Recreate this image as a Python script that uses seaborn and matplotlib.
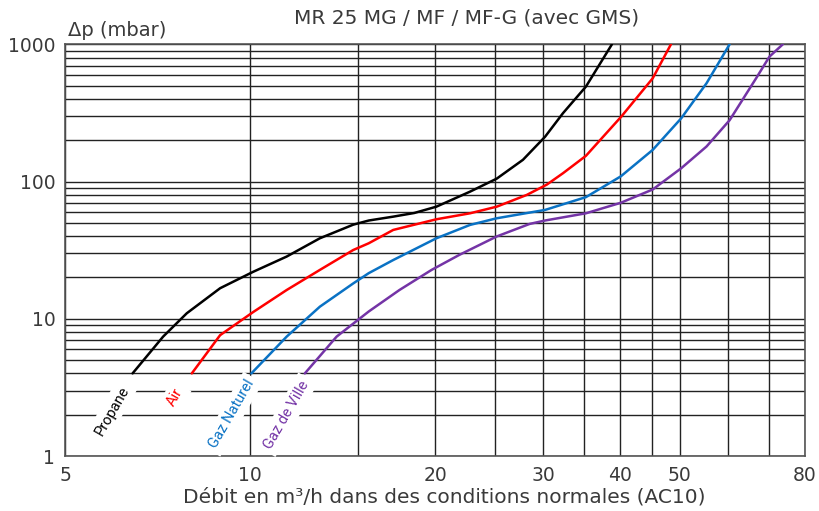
import numpy as np
import pandas as pd
import matplotlib
matplotlib.use("Agg")
import matplotlib.pyplot as plt
import seaborn as sns
from matplotlib.ticker import FixedLocator, NullFormatter

# values (flow m3/h, pressure drop mbar)
propane_x = [6.44, 7.22, 7.89, 8.94, 10.12, 11.47, 12.99, 14.72, 15.6, 17.1,
             18.5, 20.1, 22.8, 25.2, 27.8, 30.2, 32.3, 35.2, 38.8]
propane_y = [4.0, 7.41, 10.97, 16.7, 22.0, 28.4, 38.6, 48.5, 52.0, 55.5,
             59.0, 65.6, 84.4, 105, 144, 212, 315, 492, 1000]

air_x = [8.04, 8.94, 10.12, 11.47, 12.99, 14.72, 15.6, 17.1, 20.1, 22.8,
         25.2, 28.2, 30.4, 32.3, 35.2, 40.2, 45.2, 48.4]
air_y = [4.0, 7.6, 11.2, 16.2, 22.7, 31.7, 35.5, 44.4, 53.1, 58.7,
         65.6, 79.9, 95, 115, 154, 298, 565, 1000]

gaz_nat_x = [10.05, 11.47, 12.99, 14.72, 15.6, 17.1, 20.1, 22.8, 25.2, 28.5,
             30.2, 35.2, 40.1, 45.2, 50.3, 55.3, 60.3]
gaz_nat_y = [4.0, 7.41, 12.25, 18.1, 21.5, 26.8, 38.6, 48.3, 54.0, 59.4,
             62.1, 77.0, 109, 170, 289, 520, 1000]

gaz_ville_x = [12.28, 13.83, 15.6, 17.5, 19.74, 21.9, 25.2, 28.5, 30.2, 35.2,
               40.1, 45.2, 50.3, 55.3, 60.3, 66.6, 70.0, 73.6]
gaz_ville_y = [4.0, 7.41, 11.3, 16.2, 22.7, 29.2, 39.8, 49.1, 52.0, 58.7,
               70.0, 87.5, 125, 180, 280, 566, 813, 1000]

gas_names = ["Propane", "Air", "Gaz Naturel", "Gaz de Ville"]
gas_colors = ["#000000", "#ff0000", "#0a72c4", "#7434a6"]
# label anchor (flow, dp) just under the start of each curve
label_x = [5.96, 7.55, 9.34, 11.48]
label_y = [2.13, 2.69, 2.02, 2.0]

x_ticks = [5, 10, 20, 30, 40, 50, 80]
x_grid = [5, 10, 15, 20, 25, 30, 35, 40, 45, 50, 60, 70, 80]
y_ticks = [1, 10, 100, 1000]

series = [(propane_x, propane_y), (air_x, air_y),
          (gaz_nat_x, gaz_nat_y), (gaz_ville_x, gaz_ville_y)]
frames = []
for name, (xs, ys) in zip(gas_names, series):
    frames.append(pd.DataFrame({"debit": xs, "dp": ys, "gaz": name}))
df = pd.concat(frames, ignore_index=True)

sns.set_theme(style="white")
plt.rcParams["font.family"] = ["DejaVu Sans"]
text_col = "#3a3a3a"

fig = plt.figure(figsize=(8.19, 5.11), dpi=100)
ax = fig.add_axes([0.0794, 0.1076, 0.9036, 0.8057])

ax.set_xscale("log")
ax.set_yscale("log")
ax.set_xlim(5, 80)
ax.set_ylim(1, 1000)

sns.lineplot(data=df, x="debit", y="dp", hue="gaz", palette=gas_colors,
             estimator=None, sort=False, linewidth=1.8, legend=False, ax=ax,
             zorder=4)

# grid on every minor division
ax.xaxis.set_major_locator(FixedLocator(x_ticks))
ax.xaxis.set_minor_locator(FixedLocator(x_grid))
ax.xaxis.set_minor_formatter(NullFormatter())
ax.set_xticklabels([str(v) for v in x_ticks])
ax.yaxis.set_major_locator(FixedLocator(y_ticks))
ax.yaxis.set_minor_locator(FixedLocator(
    [m * 10 ** d for d in range(3) for m in range(2, 10)]))
ax.yaxis.set_minor_formatter(NullFormatter())
ax.set_yticklabels([str(v) for v in y_ticks])
ax.grid(True, which="both", color="#222222", linewidth=1.0)
ax.set_axisbelow(True)
ax.tick_params(which="both", length=0, labelsize=13.5, colors=text_col, pad=7)
for s in ax.spines.values():
    s.set_color("#555555")
    s.set_linewidth(1.2)
ax.set_xlabel("")
ax.set_ylabel("")

# curve labels, rotated, white box cutting the grid
for name, col, lx, ly in zip(gas_names, gas_colors, label_x, label_y):
    ax.text(lx, ly, name, color=col, fontsize=10.5, rotation=60,
            family=["Roboto", "DejaVu Sans"],
            ha="center", va="center", zorder=5,
            bbox=dict(facecolor="white", edgecolor="none", pad=3))

fig.text(0.570, 0.964, "MR 25 MG / MF / MF-G (avec GMS)", ha="center",
         va="center", fontsize=14.5, color=text_col)
fig.text(0.083, 0.941, "Δp (mbar)", ha="left", va="center", fontsize=14,
         color=text_col)
fig.text(0.542, 0.027, "Débit en m³/h dans des conditions normales (AC10)",
         ha="center", va="center", fontsize=14.5, color=text_col)

fig.savefig("out.png", dpi=100)
